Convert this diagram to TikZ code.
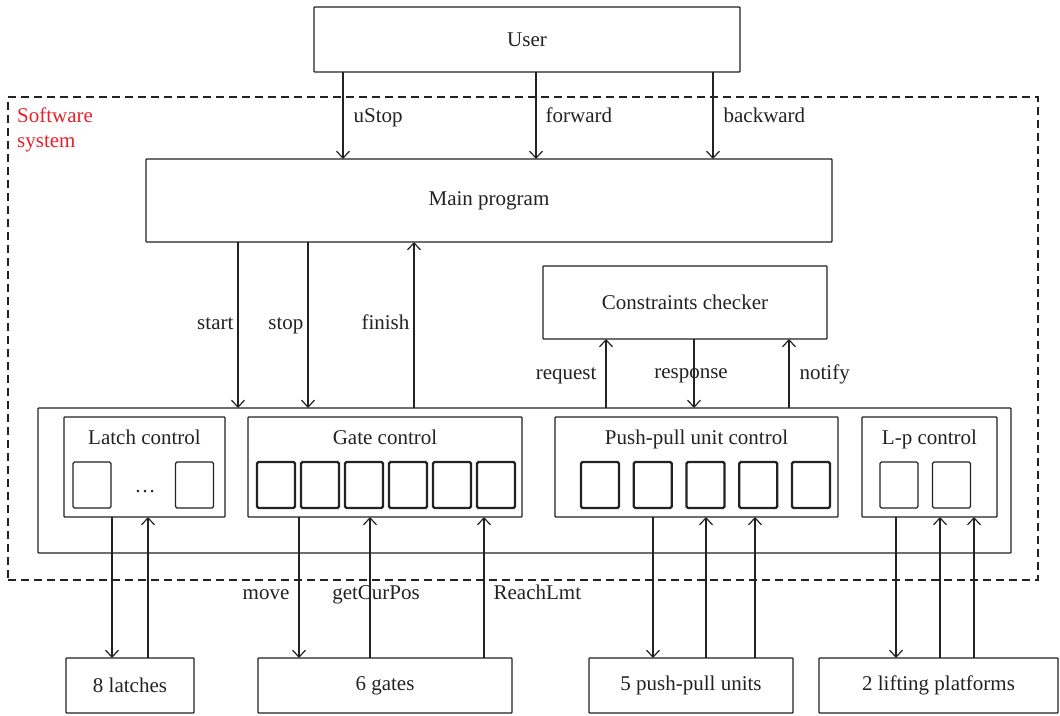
\documentclass[tikz,border=0pt]{standalone}
\usepackage{fontspec}
\setmainfont{Liberation Serif}
\usetikzlibrary{arrows.meta, positioning, calc}
\definecolor{swred}{HTML}{E8202A}
\definecolor{cline}{HTML}{222222}

\begin{document}
\begin{tikzpicture}[x=1pt, y=-1pt,
  every node/.style={font=\fontsize{21}{25}\selectfont, text=cline},
  box/.style={draw=cline, line width=1.2pt, inner sep=0pt, outer sep=0pt, rounded corners=0.8pt},
  cell/.style={draw=cline, line width=1.2pt, minimum width=38pt, minimum height=46pt, inner sep=0pt, outer sep=0pt, rounded corners=1.5pt},
  lbl/.style={text height=1.5ex, text depth=.25ex, inner sep=4pt, yshift=-3pt},
  arr/.style={-{Straight Barb[length=7pt, width=13pt]}, line width=1.2pt, draw=cline}
]
  \useasboundingbox (0,0) rectangle (1060,715);

  % software system frame
  \node[draw=cline, line width=1.1pt, dash pattern=on 8pt off 5pt, minimum width=1030pt, minimum height=483pt, inner sep=0pt] (sys) at (523,338.5) {};
  \node[anchor=base west, align=left, text=swred, inner sep=0pt] (swlabel) at (17,147) {Software\\system};

  \node[box, minimum width=426pt, minimum height=65pt] (user) at (527,39.5) {User};
  \node[box, minimum width=686pt, minimum height=83pt] (main) at (489,200.5) {Main program};
  \node[box, minimum width=284pt, minimum height=73pt] (checker) at (685,302.5) {Constraints checker};

  % control modules
  \node[box, minimum width=973pt, minimum height=145pt] (ctrl) at (524.5,480.5) {};
  \node[box, minimum width=161pt, minimum height=100pt] (latch) at (144.5,467) {};
  \node[box, minimum width=274pt, minimum height=100pt] (gate) at (385,467) {};
  \node[box, minimum width=283pt, minimum height=100pt] (ppu) at (696.5,467) {};
  \node[box, minimum width=135pt, minimum height=100pt] (lp) at (929.5,467) {};

  \node[anchor=base] (latchT) at (144.5,444) {Latch control};
  \node[anchor=base] (gateT) at (385,444) {Gate control};
  \node[anchor=base] (ppuT) at (696.5,444) {Push-pull unit control};
  \node[anchor=base] (lpT) at (929.5,444) {L-p control};

  \node[cell] (l1) at (92,485) {};
  \node[cell] (l2) at (194.5,485) {};
  \node[anchor=base, inner sep=0pt] (ldots) at (145,492) {\ldots};
  \foreach \i in {0,...,5}
    \node[cell, line width=2.2pt] (g\i) at (276+44*\i,485) {};
  \foreach \i in {0,...,4}
    \node[cell, line width=2.2pt] (p\i) at (600+52.75*\i,485) {};
  \node[cell] (lp1) at (899,485) {};
  \node[cell] (lp2) at (951.5,485) {};

  % devices
  \node[box, minimum width=128pt, minimum height=55pt] (latches) at (130,685.5) {8 latches};
  \node[box, minimum width=254pt, minimum height=55pt] (gates) at (385,685.5) {6 gates};
  \node[box, minimum width=204pt, minimum height=55pt] (units) at (691,685.5) {5 push-pull units};
  \node[box, minimum width=239pt, minimum height=55pt] (platforms) at (938.5,685.5) {2 lifting platforms};

  % user commands
  \draw[arr] (343,0 |- user.south) -- node[lbl, right=6pt, pos=0.49, yshift=-2pt] {uStop} (343,0 |- main.north);
  \draw[arr] (536,0 |- user.south) -- node[lbl, right=5pt, pos=0.49, yshift=-2pt] {forward} (536,0 |- main.north);
  \draw[arr] (713,0 |- user.south) -- node[lbl, right=6pt, pos=0.49, yshift=-2pt] {backward} (713,0 |- main.north);

  % main program <-> controls
  \draw[arr] (238,0 |- main.south) -- node[lbl, left=0pt, pos=0.49] {start} (238,0 |- ctrl.north);
  \draw[arr] (308,0 |- main.south) -- node[lbl, left=0pt, pos=0.49] {stop} (308,0 |- ctrl.north);
  \draw[arr] (414,0 |- ctrl.north) -- node[lbl, left=0pt, pos=0.51] {finish} (414,0 |- main.south);

  % constraints checker
  \draw[arr] (606,0 |- ctrl.north) -- node[lbl, left=5pt, pos=0.5] {request} (606,0 |- checker.south);
  \draw[arr] (694,0 |- checker.south) -- node[lbl, pos=0.49, xshift=-3pt] {response} (694,0 |- ctrl.north);
  \draw[arr] (789,0 |- ctrl.north) -- node[lbl, right=6pt, pos=0.5] {notify} (789,0 |- checker.south);

  % controls <-> devices
  \draw[arr] (112,0 |- latch.south) -- (112,0 |- latches.north);
  \draw[arr] (148,0 |- latches.north) -- (148,0 |- latch.south);
  \draw[arr] (299,0 |- gate.south) -- node[lbl, left=5pt, pos=0.54] {move} (299,0 |- gates.north);
  \draw[arr] (370,0 |- gates.north) -- node[lbl, pos=0.46, xshift=6pt] {getCurPos} (370,0 |- gate.south);
  \draw[arr] (484,0 |- gates.north) -- node[lbl, right=5pt, pos=0.46] {ReachLmt} (484,0 |- gate.south);
  \draw[arr] (653,0 |- ppu.south) -- (653,0 |- units.north);
  \draw[arr] (706,0 |- units.north) -- (706,0 |- ppu.south);
  \draw[arr] (755,0 |- units.north) -- (755,0 |- ppu.south);
  \draw[arr] (896,0 |- lp.south) -- (896,0 |- platforms.north);
  \draw[arr] (940,0 |- platforms.north) -- (940,0 |- lp.south);
  \draw[arr] (974,0 |- platforms.north) -- (974,0 |- lp.south);
\end{tikzpicture}
\end{document}
